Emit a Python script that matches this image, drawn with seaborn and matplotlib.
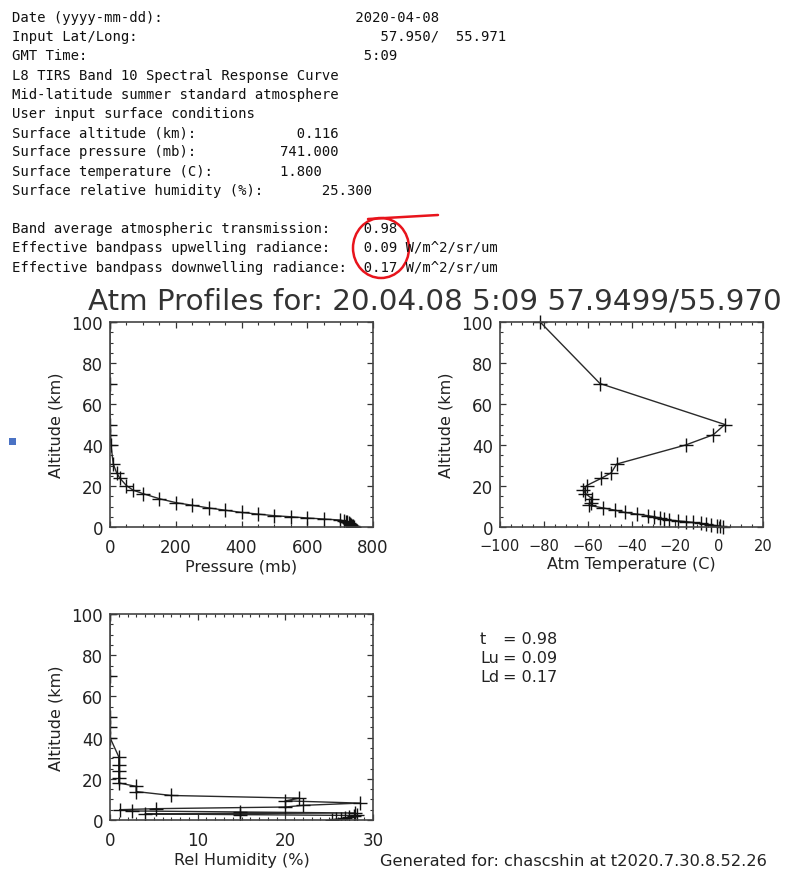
import pandas as pd
import matplotlib
matplotlib.use("Agg")
import matplotlib.pyplot as plt
from matplotlib.patches import Ellipse, Rectangle
from matplotlib.lines import Line2D
from matplotlib.ticker import MultipleLocator
import seaborn as sns

# profile levels (shared altitude grid)
altitude = [0.116, 0.3, 0.6, 1.0, 1.4, 1.8, 2.2, 2.6, 3.0, 3.4, 3.9, 4.4, 5.0,
            5.5, 6.3, 7.1, 8.2, 9.3, 10.6, 11.9, 13.8, 16.3, 18.0, 20.2, 23.8,
            26.5, 30.7, 40.0, 45.0, 50.0, 70.0, 100.0]
pressure = [741, 739, 736, 733, 730, 726, 722, 717, 711, 700, 650, 600, 550,
            500, 450, 400, 350, 300, 250, 200, 150, 100, 70, 50, 30,
            20, 10, 3, 1.5, 0.8, 0.05, 0.0]
temperature = [1.8, 0.5, -1.0, -3.5, -6.0, -8.5, -12.0, -15.0, -19.0, -23.0, -25.3, -26.8, -29.9,
               -32.3, -37.6, -43.0, -47.5, -53.0, -59.5, -58.5, -58.0, -61.0, -62.0, -60.5, -53.7,
               -49.2, -46.8, -15.3, -2.7, 2.6, -54.4, -81.7]
humidity = [25.3, 25.8, 26.3, 26.8, 27.3, 27.8, 28.2, 14.8, 4.0, 28.0, 14.8, 2.5, 1.1,
            5.2, 20.0, 22.0, 28.5, 20.0, 21.6, 7.0, 3.0, 3.0, 1.0, 1.0, 1.0,
            1.0, 1.0, 0.0, 0.0, 0.0, 0.0, 0.0]

header_lines = [
    "Date (yyyy-mm-dd):                       2020-04-08",
    "Input Lat/Long:                             57.950/  55.971",
    "GMT Time:                                 5:09",
    "L8 TIRS Band 10 Spectral Response Curve",
    "Mid-latitude summer standard atmosphere",
    "User input surface conditions",
    "Surface altitude (km):            0.116",
    "Surface pressure (mb):          741.000",
    "Surface temperature (C):        1.800",
    "Surface relative humidity (%):       25.300",
    "",
    "Band average atmospheric transmission:    0.98",
    "Effective bandpass upwelling radiance:    0.09 W/m^2/sr/um",
    "Effective bandpass downwelling radiance:  0.17 W/m^2/sr/um",
]
result_names = ["t", "Lu", "Ld"]
result_values = ["= 0.98", "= 0.09", "= 0.17"]
title = "Atm Profiles for: 20.04.08 5:09 57.9499/55.970"
footer = "Generated for: chascshin at t2020.7.30.8.52.26"

df = pd.DataFrame({"altitude": altitude, "pressure": pressure,
                   "temperature": temperature, "humidity": humidity})

sns.set_style("ticks")
plt.rcParams["font.family"] = ["DejaVu Sans"]

W, H = 794, 870
fig = plt.figure(figsize=(W / 100, H / 100), dpi=100)


def fx(px):
    return px / W


def fy(py):
    return 1 - py / H


ax1 = fig.add_axes([fx(110), fy(528), 263 / W, 205 / H])
ax2 = fig.add_axes([fx(500), fy(528), 263 / W, 205 / H])
ax3 = fig.add_axes([fx(110), fy(821), 263 / W, 206 / H])

panels = [
    (ax1, "pressure", "Pressure (mb)", (0, 800), 200, 50, True, 12),
    (ax2, "temperature", "Atm Temperature (C)", (-100, 20), 20, 5, False, 10.5),
    (ax3, "humidity", "Rel Humidity (%)", (0, 30), 10, 1, True, 12),
]
for ax, col, xlab, xlim, major, minor, clip, xsize in panels:
    sns.lineplot(data=df, x=col, y="altitude", sort=False, estimator=None,
                 marker="+", markersize=10, markeredgewidth=1.0,
                 markeredgecolor="#111111", color="#2a2a2a", linewidth=1.0,
                 clip_on=clip, ax=ax)
    ax.set_xlim(*xlim)
    ax.set_ylim(0, 100)
    ax.xaxis.set_major_locator(MultipleLocator(major))
    ax.xaxis.set_minor_locator(MultipleLocator(minor))
    ax.yaxis.set_major_locator(MultipleLocator(20))
    ax.yaxis.set_minor_locator(MultipleLocator(5))
    ax.tick_params(which="both", direction="in", top=True, right=True,
                   colors="#333333", labelcolor="#222222", labelsize=12, pad=5)
    ax.tick_params(axis="x", labelsize=xsize, pad=8)
    ax.tick_params(which="major", length=4, width=0.9)
    ax.tick_params(which="minor", length=2.5, width=0.8)
    for s in ax.spines.values():
        s.set_color("#444444")
        s.set_linewidth(1.2)
    ax.set_xlabel(xlab, fontsize=11.5, color="#222222", labelpad=2)
    ax.set_ylabel("Altitude (km)", fontsize=11.5, color="#222222", labelpad=6)

fig.text(fx(88), fy(310), title, fontsize=21.2, color="#333333",
         ha="left", va="baseline")

for i, line in enumerate(header_lines):
    fig.text(fx(12), fy(18 + i * 19.2), line, family="DejaVu Sans Mono",
             fontsize=10, color="#111111", ha="left", va="center")

for i, (n, v) in enumerate(zip(result_names, result_values)):
    fig.text(fx(480), fy(640 + i * 18.5), n, fontsize=11.5, color="#222222",
             ha="left", va="center")
    fig.text(fx(503), fy(640 + i * 18.5), v, fontsize=11.5, color="#222222",
             ha="left", va="center")

fig.text(fx(380), fy(862), footer, fontsize=11.7, color="#222222",
         ha="left", va="center")

# red hand-drawn highlight and small blue marker
fig.add_artist(Ellipse((fx(381), fy(249)), 56 / W, 60 / H, transform=fig.transFigure,
                       fill=False, edgecolor="#e8141c", linewidth=1.8))
fig.add_artist(Line2D([fx(368), fx(438)], [fy(220), fy(216)], transform=fig.transFigure,
                      color="#e8141c", linewidth=1.8))
fig.add_artist(Rectangle((fx(9), fy(446)), 7 / W, 7 / H, transform=fig.transFigure,
                         facecolor="#4a72c4", edgecolor="none"))

fig.savefig("out.png", dpi=100)
